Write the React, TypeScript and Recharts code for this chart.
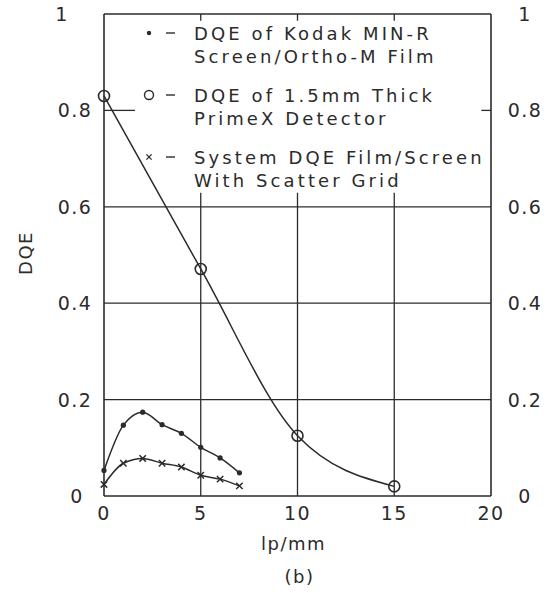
import React from 'react';
import { LineChart, Line, XAxis, YAxis, ReferenceLine, Legend } from 'recharts';

// spatial frequency (lp/mm) and DQE values
const filmLp = [0, 1, 2, 3, 4, 5, 6, 7];
const kodakDqe = [0.053, 0.147, 0.174, 0.148, 0.13, 0.101, 0.079, 0.048];
const systemDqe = [0.024, 0.068, 0.078, 0.068, 0.06, 0.043, 0.035, 0.021];

const primexLp = [0, 5, 10, 15];
const primexDqe = [0.83, 0.471, 0.125, 0.02];

const xTicks = [0, 5, 10, 15, 20];
const yTicks = [0, 0.2, 0.4, 0.6, 0.8, 1];
const fullGridY = [0.2, 0.4, 0.6];
const innerGridX = [5, 10, 15];

const legendItems = [
  { marker: 'dot', lines: ['DQE of Kodak MIN-R', 'Screen/Ortho-M Film'] },
  { marker: 'circle', lines: ['DQE of 1.5mm Thick', 'PrimeX Detector'] },
  { marker: 'cross', lines: ['System DQE Film/Screen', 'With Scatter Grid'] },
];

const kodakData = filmLp.map((lp, i) => ({ lp, dqe: kodakDqe[i] }));
const systemData = filmLp.map((lp, i) => ({ lp, dqe: systemDqe[i] }));
const primexData = primexLp.map((lp, i) => ({ lp, dqe: primexDqe[i] }));

const INK = '#2b2b2b';
const FONT = '"DejaVu Sans", sans-serif';

const fmt = (v: number) => (v === 0 || v === 1 ? String(v) : v.toFixed(1));

const SmallDot = (props: any) => {
  const { cx, cy, index } = props;
  return <circle key={`d-${index}`} cx={cx} cy={cy} r={2.6} fill={INK} />;
};

const OpenCircle = (props: any) => {
  const { cx, cy, index } = props;
  return <circle key={`o-${index}`} cx={cx} cy={cy} r={5.5} fill="none" stroke={INK} strokeWidth={1.6} />;
};

const Cross = (props: any) => {
  const { cx, cy, index } = props;
  const s = 3.2;
  return (
    <g key={`x-${index}`} stroke={INK} strokeWidth={1.5}>
      <line x1={cx - s} y1={cy - s} x2={cx + s} y2={cy + s} />
      <line x1={cx - s} y1={cy + s} x2={cx + s} y2={cy - s} />
    </g>
  );
};

const LeftTick = (props: any) => {
  const { x, y, payload } = props;
  const v = payload.value;
  const dx = v === 1 ? -13 : v === 0 ? 2 : 0;
  return (
    <text x={x + dx} y={y} textAnchor="middle" dominantBaseline="central" fill={INK}
      fontSize={19} letterSpacing={1.5} fontFamily={FONT}>
      {fmt(v)}
    </text>
  );
};

const RightTick = (props: any) => {
  const { x, y, payload } = props;
  return (
    <text x={x} y={y} textAnchor="middle" dominantBaseline="central" fill={INK}
      fontSize={19} letterSpacing={1.5} fontFamily={FONT}>
      {fmt(payload.value)}
    </text>
  );
};

const BottomTick = (props: any) => {
  const { x, y, payload } = props;
  return (
    <text x={x} y={y} textAnchor="middle" dominantBaseline="central" fill={INK}
      fontSize={19} letterSpacing={1.5} fontFamily={FONT}>
      {payload.value}
    </text>
  );
};

const XCaption = (props: any) => {
  const vb = props.viewBox || { x: 104, y: 496, width: 387, height: 97 };
  const cx = vb.x + vb.width / 2;
  return (
    <g fill={INK} fontFamily={FONT} fontSize={18} letterSpacing={1.5}>
      <text x={cx - 4} y={vb.y + 47} textAnchor="middle" dominantBaseline="central">lp/mm</text>
      <text x={cx + 2} y={vb.y + 80} textAnchor="middle" dominantBaseline="central">(b)</text>
    </g>
  );
};

const YCaption = (props: any) => {
  const vb = props.viewBox || { x: 0, y: 14, width: 104, height: 482 };
  const x = vb.x + 25;
  const y = vb.y + vb.height / 2 - 2;
  return (
    <text x={x} y={y} transform={`rotate(-90 ${x} ${y})`} textAnchor="middle" dominantBaseline="central"
      fill={INK} fontFamily={FONT} fontSize={18} letterSpacing={1.5}>
      DQE
    </text>
  );
};

const LegendSymbol = ({ kind, x, y }: { kind: string; x: number; y: number }) => {
  if (kind === 'dot') return <circle cx={x} cy={y} r={2.2} fill={INK} />;
  if (kind === 'circle') return <circle cx={x} cy={y} r={4.5} fill="none" stroke={INK} strokeWidth={1.4} />;
  const s = 2.6;
  return (
    <g stroke={INK} strokeWidth={1.3}>
      <line x1={x - s} y1={y - s} x2={x + s} y2={y + s} />
      <line x1={x - s} y1={y + s} x2={x + s} y2={y - s} />
    </g>
  );
};

const LegendBox = () => (
  <svg width={556} height={200} style={{ display: 'block' }}>
    {legendItems.map((item, i) => {
      const y0 = 33 + i * 62;
      return (
        <g key={i}>
          <LegendSymbol kind={item.marker} x={149} y={y0} />
          <line x1={166} y1={y0} x2={175} y2={y0} stroke={INK} strokeWidth={1.4} />
          {item.lines.map((t, j) => (
            <text key={j} x={194} y={y0 + j * 23} dominantBaseline="central" fill={INK}
              fontFamily={FONT} fontSize={18} letterSpacing={3.1}>
              {t}
            </text>
          ))}
        </g>
      );
    })}
  </svg>
);

export default function App() {
  return (
    <div style={{ position: 'absolute', left: 0, top: 0, width: 556, height: 593, background: '#fff' }}>
      <LineChart width={556} height={593} margin={{ top: 14, right: 0, bottom: 0, left: 0 }}>
        <XAxis
          dataKey="lp"
          type="number"
          domain={[0, 20]}
          ticks={xTicks}
          height={97}
          axisLine={{ stroke: INK, strokeWidth: 1.6 }}
          tickLine={false}
          tickSize={0}
          tickMargin={17}
          tick={<BottomTick />}
          label={<XCaption />}
        />
        <YAxis
          yAxisId="left"
          type="number"
          domain={[0, 1]}
          ticks={yTicks}
          width={104}
          axisLine={{ stroke: INK, strokeWidth: 1.6 }}
          tickLine={false}
          tickSize={0}
          tickMargin={29}
          tick={<LeftTick />}
          label={<YCaption />}
        />
        <YAxis
          yAxisId="right"
          orientation="right"
          type="number"
          domain={[0, 1]}
          allowDataOverflow
          ticks={yTicks}
          width={65}
          axisLine={{ stroke: INK, strokeWidth: 1.6 }}
          tickLine={false}
          tickSize={0}
          tickMargin={34}
          tick={<RightTick />}
        />

        {/* frame top and grid, cut away where the legend sits */}
        <ReferenceLine yAxisId="left" y={1} stroke={INK} strokeWidth={1.6} />
        <ReferenceLine yAxisId="right" y={0} stroke="none" />
        {fullGridY.map((v) => (
          <ReferenceLine key={`h${v}`} yAxisId="left" y={v} stroke={INK} strokeWidth={1.3} />
        ))}
        {innerGridX.map((v) => (
          <ReferenceLine key={`v${v}`} yAxisId="left" segment={[{ x: v, y: 0 }, { x: v, y: 0.629 }]}
            stroke={INK} strokeWidth={1.3} />
        ))}
        {innerGridX.map((v) => (
          <ReferenceLine key={`t${v}`} yAxisId="left" segment={[{ x: v, y: 0.986 }, { x: v, y: 1 }]}
            stroke={INK} strokeWidth={1.3} />
        ))}
        <ReferenceLine yAxisId="left" segment={[{ x: 0, y: 0.8 }, { x: 1.6, y: 0.8 }]} stroke={INK} strokeWidth={1.3} />
        <ReferenceLine yAxisId="left" segment={[{ x: 19.5, y: 0.8 }, { x: 20, y: 0.8 }]} stroke={INK} strokeWidth={1.3} />

        <Legend
          layout="vertical"
          align="center"
          verticalAlign="middle"
          wrapperStyle={{ left: 0, top: 0, width: 556, height: 200 }}
          content={<LegendBox />}
        />

        <Line yAxisId="left" data={primexData} dataKey="dqe" name="PrimeX" type="monotone"
          stroke={INK} strokeWidth={1.5} dot={<OpenCircle />} activeDot={false} isAnimationActive={false} />
        <Line yAxisId="left" data={kodakData} dataKey="dqe" name="Kodak" type="monotone"
          stroke={INK} strokeWidth={1.5} dot={<SmallDot />} activeDot={false} isAnimationActive={false} />
        <Line yAxisId="left" data={systemData} dataKey="dqe" name="System" type="monotone"
          stroke={INK} strokeWidth={1.5} dot={<Cross />} activeDot={false} isAnimationActive={false} />
      </LineChart>
    </div>
  );
}
